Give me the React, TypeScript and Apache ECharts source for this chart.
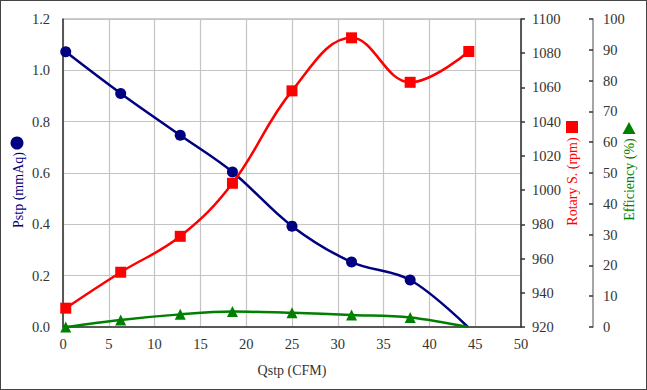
import React, { useEffect, useRef } from "react";
import * as echarts from "echarts";

const qstp = [0.3, 6.3, 12.8, 18.5, 25.0, 31.5, 37.9, 44.2];
const pstp = [1.072, 0.91, 0.747, 0.604, 0.393, 0.253, 0.183, 0];
const rotaryQ = [0.3, 6.3, 12.8, 18.5, 25.0, 31.5, 37.9, 44.3];
const rotary = [931, 952, 973, 1004, 1058, 1089, 1063, 1081];
const efficiency = [0, 2.3, 4.1, 5.0, 4.6, 3.9, 3.1, 0];

const xTicks = { min: 0, max: 50, interval: 5 };
const pTicks = { min: 0, max: 1.2, interval: 0.2 };
const rTicks = { min: 920, max: 1100, interval: 20 };
const eTicks = { min: 0, max: 100, interval: 10 };

const FONT = "Liberation Serif";
const FS = 14.5;
const NAVY = "#000080";
const RED = "#ff0000";
const GREEN = "#008000";
const LABEL = "#333333";

export default function App() {
  const ref = useRef<HTMLDivElement>(null);
  useEffect(() => {
    if (!ref.current) return;
    const chart = echarts.init(ref.current, undefined, { renderer: "svg" });
    const lastNoSymbol = (xs: number[], ys: number[], hideLast: boolean) =>
      xs.map((x, i) =>
        hideLast && i === xs.length - 1
          ? { value: [x, ys[i]], symbol: "none" }
          : { value: [x, ys[i]] }
      );
    chart.setOption({
      animation: false,
      backgroundColor: "#ffffff",
      textStyle: { fontFamily: FONT, fontSize: FS, color: LABEL },
      grid: {
        left: 63,
        right: 126,
        top: 19,
        bottom: 63,
        show: true,
        borderColor: "#999999",
        borderWidth: 1,
        containLabel: false,
      },
      xAxis: {
        type: "value",
        min: xTicks.min,
        max: xTicks.max,
        interval: xTicks.interval,
        name: "Qstp (CFM)",
        nameLocation: "middle",
        nameGap: 36,
        nameTextStyle: { color: LABEL, fontFamily: FONT, fontSize: 14 },
        axisLine: { show: true, lineStyle: { color: "#333333", width: 1.5 } },
        axisTick: { show: false },
        axisLabel: {
          show: true,
          color: LABEL,
          fontFamily: FONT,
          fontSize: FS,
          margin: 9,
          formatter: (v: number) => String(v),
        },
        splitLine: { show: true, lineStyle: { color: "#c4c4c4", width: 1.2 } },
      },
      yAxis: [
        {
          type: "value",
          position: "left",
          min: pTicks.min,
          max: pTicks.max,
          interval: pTicks.interval,
          axisLine: { show: true, lineStyle: { color: "#333333", width: 1.5 } },
          axisTick: { show: false },
          axisLabel: {
            show: true,
            color: LABEL,
            fontFamily: FONT,
            fontSize: FS,
            margin: 13,
            formatter: (v: number) => v.toFixed(1),
          },
          splitLine: { show: true, lineStyle: { color: "#c4c4c4", width: 1.2 } },
        },
        {
          type: "value",
          position: "right",
          min: rTicks.min,
          max: rTicks.max,
          interval: rTicks.interval,
          axisLine: { show: true, onZero: false, lineStyle: { color: "#333333", width: 1.5 } },
          axisTick: { show: true, length: 4, lineStyle: { color: "#333333", width: 1.5 } },
          axisLabel: {
            show: true,
            color: LABEL,
            fontFamily: FONT,
            fontSize: FS,
            margin: 11,
            formatter: (v: number) => String(v),
          },
          splitLine: { show: false },
        },
        {
          type: "value",
          position: "right",
          offset: 72,
          min: eTicks.min,
          max: eTicks.max,
          interval: eTicks.interval,
          axisLine: { show: true, onZero: false, lineStyle: { color: "#888888", width: 1.5 } },
          axisTick: { show: true, inside: true, length: 4, lineStyle: { color: "#333333", width: 1.5 } },
          axisLabel: {
            show: true,
            color: LABEL,
            fontFamily: FONT,
            fontSize: FS,
            margin: 10,
            formatter: (v: number) => String(v),
          },
          splitLine: { show: false },
        },
      ],
      graphic: [
        {
          type: "text",
          x: 18,
          y: 190,
          rotation: Math.PI / 2,
          style: {
            text: "Pstp (mmAq)",
            fill: NAVY,
            font: `14px ${FONT}`,
            textAlign: "center",
            textVerticalAlign: "middle",
          },
        },
        { type: "circle", shape: { cx: 17, cy: 143, r: 6.5 }, style: { fill: NAVY } },
        {
          type: "text",
          x: 572.5,
          y: 181.5,
          rotation: Math.PI / 2,
          style: {
            text: "Rotary S. (rpm)",
            fill: RED,
            font: `14px ${FONT}`,
            textAlign: "center",
            textVerticalAlign: "middle",
          },
        },
        { type: "rect", shape: { x: 566, y: 121, width: 12, height: 12 }, style: { fill: RED } },
        {
          type: "text",
          x: 629,
          y: 179.5,
          rotation: Math.PI / 2,
          style: {
            text: "Efficiency (%)",
            fill: GREEN,
            font: `14px ${FONT}`,
            textAlign: "center",
            textVerticalAlign: "middle",
          },
        },
        {
          type: "polygon",
          shape: { points: [[629, 122], [635.5, 134], [622.5, 134]] },
          style: { fill: GREEN },
        },
      ],
      series: [
        {
          type: "line",
          name: "Pstp",
          yAxisIndex: 0,
          data: lastNoSymbol(qstp, pstp, true),
          smooth: 0.35,
          symbol: "circle",
          symbolSize: 11,
          lineStyle: { color: NAVY, width: 2.5 },
          itemStyle: { color: NAVY },
          z: 3,
        },
        {
          type: "line",
          name: "Rotary S.",
          yAxisIndex: 1,
          data: lastNoSymbol(rotaryQ, rotary, false),
          smooth: 0.4,
          symbol: "rect",
          symbolSize: 11,
          lineStyle: { color: RED, width: 2.5 },
          itemStyle: { color: RED },
          z: 4,
        },
        {
          type: "line",
          name: "Efficiency",
          yAxisIndex: 2,
          data: lastNoSymbol(qstp, efficiency, true),
          smooth: 0.35,
          symbol: "triangle",
          symbolSize: 11,
          lineStyle: { color: GREEN, width: 2.5 },
          itemStyle: { color: GREEN },
          z: 5,
        },
      ],
    });
    return () => chart.dispose();
  }, []);
  return (
    <div style={{ position: "fixed", left: 0, top: 0, width: 647, height: 390, background: "#fff" }}>
      <div ref={ref} style={{ position: "absolute", left: 0, top: 0, width: 647, height: 390 }} />
      <div
        style={{
          position: "absolute",
          left: 0,
          top: 0,
          width: 647,
          height: 390,
          boxSizing: "border-box",
          border: "1.5px solid #444",
          pointerEvents: "none",
        }}
      />
    </div>
  );
}
